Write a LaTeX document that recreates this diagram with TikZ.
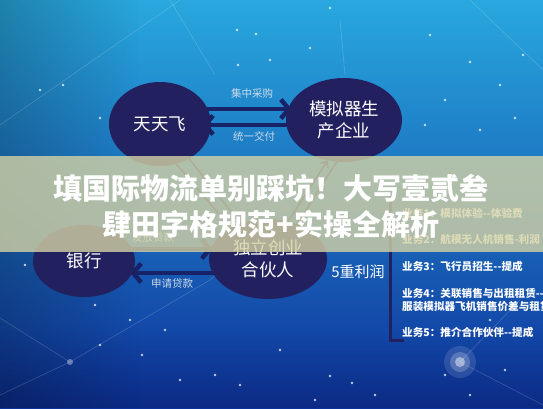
\documentclass[tikz,border=0pt]{standalone}
\usepackage{fontspec}
\newfontfamily\cjk{Noto Sans CJK SC}
\usetikzlibrary{arrows.meta,shapes.geometric,calc,fadings}
\pgfdeclarelayer{back}
\pgfdeclarelayer{mid}
\pgfsetlayers{back,mid,main}
\definecolor{navy}{RGB}{34,32,94}
\definecolor{arrnavy}{RGB}{24,34,102}
\definecolor{bgtop}{RGB}{40,168,222}
\definecolor{bgmid}{RGB}{24,112,202}
\definecolor{bgbot}{RGB}{14,50,156}
\definecolor{bannerc}{RGB}{212,210,165}
\definecolor{lblc}{RGB}{205,218,232}
\tikzset{
  bub/.style={ellipse, fill=navy, text=white, inner sep=0pt, align=center,
    font=\cjk\fontsize{17.5}{22}\selectfont},
  arr/.style={draw=arrnavy, line width=4.5pt, -{Straight Barb[length=8pt,width=19pt]}},
  thinln/.style={draw=arrnavy, line width=1.6pt},
  lbl/.style={text=lblc, font=\cjk\fontsize{10.5}{12}\selectfont, inner sep=0pt},
  item/.style={text=white, anchor=west, inner sep=0pt, align=left,
    font=\cjk\bfseries\fontsize{10.6}{12.5}\selectfont},
  ttl/.style={text=white, inner sep=0pt, font=\cjk\bfseries\fontsize{29}{34}\selectfont},
  star/.style={fill=white, opacity=0.75},
  cline/.style={draw=white, opacity=0.18, line width=0.6pt}
}
\begin{document}
\begin{tikzpicture}[x=1pt,y=-1pt]
\useasboundingbox (0,0) rectangle (543,408);
\begin{pgfonlayer}{back}
  \shade[top color=bgtop, middle color=bgmid, bottom color=bgbot] (0,0) rectangle (543,408);
  \fill[black, opacity=0.22, path fading=east] (0,0) rectangle (140,408);
  \fill[black, opacity=0.15, path fading=north] (0,330) rectangle (543,408);
  % constellation lines
  \draw[cline] (0,125) -- (180,0);
  \draw[cline] (170,0) -- (215,75);
  \draw[cline] (340,20) -- (345,75);
  \draw[cline] (470,0) -- (543,70);
  \draw[cline] (0,318) -- (70,362) -- (0,395);
  \draw[cline] (70,362) -- (210,280);
  \draw[cline] (210,280) -- (262,235);
  \draw[cline] (460,362) -- (543,405);
  \draw[cline] (460,362) -- (520,300);
  % stars
  \foreach \p in {(237,30),(330,8),(256,34),(310,48),(238,65),(270,60),(40,90),(63,85),(100,118),(120,100),(430,35),(445,100),(470,62),(500,85),(523,55),(515,118),(480,130),(425,125),(95,305),(130,320),(165,330),(100,345),(142,355),(180,380),(215,375),(240,385),(280,350),(330,376),(352,383),(315,400),(445,375),(490,320),(505,370),(410,415),(375,395),(470,395),(25,265)}
    \fill[star] \p circle (1.3);
  \fill[white, opacity=0.12] (460,362) circle (16);
  \fill[white, opacity=0.2] (460,362) circle (10);
  \fill[white, opacity=0.45] (460,362) circle (5);
  \fill[white, opacity=0.35] (70,362) circle (3);
\end{pgfonlayer}

\node[bub, minimum width=102pt, minimum height=84pt] (tt) at (160,124) {天天飞};
\node[bub, minimum width=116pt, minimum height=84pt] (mn) at (344,120) {模拟器生\\产企业};
\node[bub, minimum width=102pt, minimum height=72pt] (yh) at (84,261) {银行};
\node[bub, minimum width=118pt, minimum height=80pt] (hh) at (268,259) {独立创业\\合伙人};

\begin{pgfonlayer}{mid}
  \coordinate (a1s) at ($(tt.east)+(-6,-15)$);
  \draw[arr, shorten >=-6pt] (a1s) -- (a1s -| mn.west);
  \coordinate (a2s) at ($(mn.west)+(6,5)$);
  \draw[arr, shorten >=-9pt] (a2s) -- (a2s -| tt.east);
  \coordinate (a3s) at ($(hh.west)+(6,14)$);
  \draw[arr, shorten >=-5pt] (a3s) -- (a3s -| yh.east);
  \coordinate (a4s) at ($(yh.east)+(-6,-12)$);
  \draw[arr, shorten >=-4pt] (a4s) -- (a4s -| hh.west);
  \draw[thinln, -{Straight Barb[length=5pt,width=9pt]}] (tt.-50) -- (hh.128);
  \draw[thinln] (tt.-68) -- (hh.140);
  \draw[thinln, -{Straight Barb[length=5pt,width=9pt]}] (hh.62) -- (mn.-112);
  \draw[thinln] (hh.50) -- (mn.-100);
  \draw[navy, line width=3pt] (390,196) -- (390,340) -- (404,340);
\end{pgfonlayer}

\node[lbl] (l1) at (252,93) {集中采购};
\node[lbl] (l2) at (254,136) {统一交付};
\node[lbl] (l3) at (172,284) {申请贷款};
\node[lbl] (l4) at (153,237) {发放贷款};
\node[text=white, inner sep=0pt, font=\cjk\fontsize{15}{18}\selectfont] (p5) at (358,272) {5重利润};

\node[item] (b1) at (402,213) {业务1：模拟体验--体验费};
\node[item] (b2) at (402,239) {业务2：航模无人机销售-利润};
\node[item] (b3) at (402,266) {业务3：飞行员招生--提成};
\node[item] (b4) at (402,300) {业务4：关联销售与出租租赁--\\服装模拟器飞机销售价差与租赁};
\node[item] (b5) at (402,332) {业务5：推介合作伙伴--提成};

\fill[bannerc, opacity=0.8] (0,156) rectangle (543,252);
\node[ttl] (t1) at (271,188) {填国际物流单别踩坑！大写壹贰叁};
\node[ttl] (t2) at (271,224) {肆田字格规范+实操全解析};
\end{tikzpicture}
\end{document}
